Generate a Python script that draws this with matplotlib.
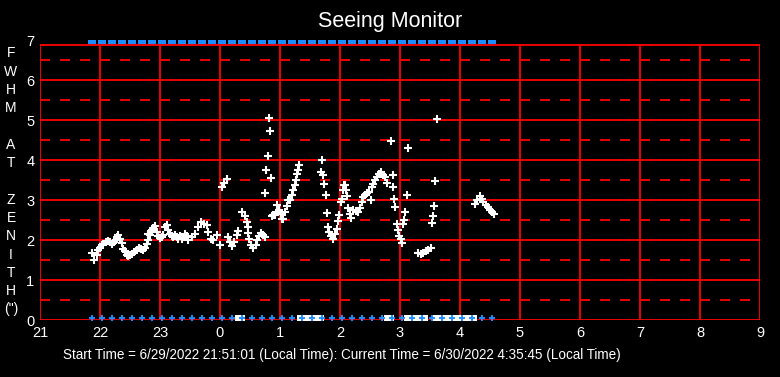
import matplotlib
matplotlib.use("Agg")
import matplotlib.pyplot as plt

# ---------------- data ----------------
title = "Seeing Monitor"
footer = "Start Time = 6/29/2022 21:51:01 (Local Time): Current Time = 6/30/2022 4:35:45 (Local Time)"
ylabel_letters = ["F", "W", "H", "M", "", "A", "T", "", "Z", "E", "N", "I", "T", "H", "(\")"]

x_ticks = [21, 22, 23, 24, 25, 26, 27, 28, 29, 30, 31, 32, 33]
x_ticklabels = ["21", "22", "23", "0", "1", "2", "3", "4", "5", "6", "7", "8", "9"]
y_ticks = [0, 1, 2, 3, 4, 5, 6, 7]
y_ticklabels = ["0", "1", "2", "3", "4", "5", "6", "7"]
dashed_levels = [0.5, 1.5, 2.5, 3.5, 4.5, 5.5, 6.5]
frame_top = 6.875

# FWHM measurements: time (decimal hours, >24 = after midnight) and FWHM (arcsec)
seeing_time = [
    21.872, 21.905, 21.945, 21.972, 22.000, 22.028, 22.055, 22.095, 22.128, 22.167,
    22.205, 22.238, 22.262, 22.288, 22.305, 22.328, 22.362, 22.388, 22.417, 22.445,
    22.472, 22.500, 22.528, 22.572, 22.612, 22.650, 22.683, 22.722, 22.750, 22.778,
    22.805, 22.805, 22.833, 22.862, 22.888, 22.917, 22.945, 22.972, 23.000, 23.028,
    23.055, 23.083, 23.112, 23.138, 23.167, 23.195, 23.222, 23.250, 23.278, 23.305,
    23.333, 23.362, 23.388, 23.417, 23.445, 23.472, 23.528, 23.583, 23.638, 23.683,
    23.738, 23.778, 23.805, 23.850, 23.888, 23.945, 24.000, 24.038, 24.072, 24.112,
    24.138, 24.167, 24.195, 24.238, 24.278, 24.305, 24.372, 24.417, 24.445, 24.462,
    24.472, 24.488, 24.517, 24.555, 24.595, 24.622, 24.650, 24.683, 24.722, 24.750,
    24.755, 24.772, 24.795, 24.822, 24.838, 24.855, 24.872, 24.888, 24.917, 24.945,
    24.950, 24.983, 25.017, 25.038, 25.055, 25.083, 25.112, 25.138, 25.167, 25.195,
    25.222, 25.250, 25.267, 25.288, 25.305, 25.322, 25.695, 25.678, 25.722, 25.738,
    25.767, 25.788, 25.805, 25.822, 25.845, 25.878, 25.917, 25.945, 25.972, 25.988,
    26.012, 26.028, 26.045, 26.067, 26.083, 26.100, 26.122, 26.138, 26.167, 26.183,
    26.222, 26.267, 26.305, 26.333, 26.362, 26.388, 26.417, 26.455, 26.488, 26.522,
    26.528, 26.555, 26.583, 26.622, 26.655, 26.678, 26.712, 26.750, 26.788, 26.855,
    26.878, 26.888, 26.905, 26.922, 26.955, 26.972, 26.988, 27.012, 27.038, 27.055,
    27.072, 27.088, 27.122, 27.138, 27.305, 27.345, 27.388, 27.433, 27.472, 27.512,
    27.538, 27.555, 27.572, 27.588, 27.612, 28.250, 28.288, 28.333, 28.362, 28.388,
    28.433, 28.472, 28.500, 28.528, 28.567,
]
seeing_fwhm = [
    1.69, 1.52, 1.63, 1.75, 1.82, 1.89, 1.92, 1.95, 1.98, 1.96,
    1.92, 1.96, 2.02, 2.08, 2.13, 2.04, 1.94, 1.79, 1.73, 1.63,
    1.60, 1.64, 1.67, 1.70, 1.75, 1.82, 1.79, 1.75, 1.82, 1.92,
    2.00, 2.15, 2.13, 2.27, 2.32, 2.35, 2.21, 2.11, 2.07, 2.08,
    2.13, 2.33, 2.38, 2.27, 2.17, 2.10, 2.08, 2.13, 2.08, 2.04,
    2.10, 2.04, 2.08, 2.15, 2.10, 2.00, 2.08, 2.17, 2.33, 2.46,
    2.42, 2.38, 2.21, 2.04, 2.00, 2.13, 1.88, 3.33, 3.43, 3.54,
    2.08, 1.96, 1.85, 1.96, 2.13, 2.23, 2.71, 2.60, 2.46, 2.33,
    2.18, 2.04, 1.88, 1.82, 1.88, 2.00, 2.10, 2.18, 2.13, 2.08,
    3.19, 3.77, 4.10, 5.07, 4.73, 3.57, 2.60, 2.63, 2.63, 2.71,
    2.88, 2.75, 2.67, 2.54, 2.54, 2.71, 2.85, 3.00, 3.02, 3.13,
    3.27, 3.39, 3.52, 3.67, 3.77, 3.89, 4.00, 3.71, 3.64, 3.42,
    3.14, 2.69, 2.33, 2.21, 2.10, 2.04, 2.17, 2.29, 2.48, 2.64,
    2.96, 3.04, 3.27, 3.39, 3.38, 3.25, 3.10, 2.82, 2.67, 2.57,
    2.75, 2.73, 2.71, 2.82, 2.96, 3.08, 3.14, 3.18, 3.21, 3.02,
    3.33, 3.42, 3.50, 3.58, 3.67, 3.71, 3.63, 3.58, 3.43, 4.48,
    3.64, 3.33, 3.04, 2.83, 2.40, 2.25, 2.10, 2.04, 1.94, 2.40,
    2.52, 2.72, 3.14, 4.32, 1.68, 1.65, 1.68, 1.73, 1.77, 1.82,
    2.44, 2.62, 2.87, 3.49, 5.04, 2.92, 3.02, 3.10, 3.04, 2.96,
    2.88, 2.83, 2.75, 2.71, 2.65,
]

# status flags (minutes after 21:00), shown along top (7) and bottom (near 0)
flag_minutes = [
    52, 62, 72, 82, 92, 102, 112, 122, 132, 142, 152, 162, 172, 182,
    192, 202, 212, 222, 232, 242, 252, 262, 272, 282, 292, 302, 312, 322,
    332, 342, 352, 362, 372, 382, 392, 402, 412, 422, 432, 442, 452,
]
flag_top_value = 7.0
flag_bottom_value = 0.065
# white markers on the bottom line (hours)
white_flag_time = [24.333, 25.367, 25.467, 25.567, 25.650, 26.817, 27.150, 27.267,
                   27.383, 27.617, 27.717, 27.817, 27.917, 28.017, 28.117, 28.200]
white_flag_value = 0.0

# ---------------- figure ----------------
RED = "#ff0000"
BLUE = "#1e8cff"
W, H = 780, 377
fig = plt.figure(figsize=(W / 100, H / 100), dpi=100, facecolor="black")
ax = fig.add_axes([40 / W, (H - 320.3) / H, 720 / W, 280 / H])
ax.set_facecolor("black")
ax.set_xlim(x_ticks[0], x_ticks[-1])
ax.set_ylim(0, 7)
for s in ax.spines.values():
    s.set_visible(False)

lw = 1.3
# solid horizontal lines
for v in range(0, 7):
    ax.plot([x_ticks[0], x_ticks[-1]], [v, v], color=RED, lw=lw, zorder=1, solid_capstyle="butt")
ax.plot([x_ticks[0], x_ticks[-1]], [frame_top, frame_top], color=RED, lw=lw, zorder=1)
# dashed horizontal lines
for v in dashed_levels:
    ax.plot([x_ticks[0], x_ticks[-1]], [v, v], color=RED, lw=lw, zorder=1,
            linestyle=(0, (7.2 / lw, 7.2 / lw)))
# vertical lines
ax.vlines(x_ticks, 0, frame_top, colors=RED, lw=lw, zorder=1)

# data
ax.plot(seeing_time, seeing_fwhm, linestyle="none", marker="+", color="white",
        markersize=5.8, mew=1.5, zorder=3)

flag_time = [21 + m / 60 for m in flag_minutes]
ax.plot(flag_time, [flag_top_value] * len(flag_time), linestyle="none", marker="s",
        color=BLUE, markersize=6.1, mew=0, zorder=4, clip_on=True)
ax.plot(white_flag_time, [white_flag_value] * len(white_flag_time), linestyle="none",
        marker="s", color="white", markersize=6.5, mew=0, zorder=4)
ax.plot(flag_time, [flag_bottom_value] * len(flag_time), linestyle="none", marker="+",
        color=BLUE, markersize=4.2, mew=1.4, zorder=5)

# ticks
ax.set_xticks(x_ticks)
ax.set_xticklabels(x_ticklabels)
ax.set_yticks(y_ticks)
ax.set_yticklabels(y_ticklabels)
ax.tick_params(axis="both", length=0, colors="white", labelsize=10.5)
ax.tick_params(axis="x", pad=4)
ax.tick_params(axis="y", pad=4)
for lab in ax.get_xticklabels() + ax.get_yticklabels():
    lab.set_fontfamily(["Liberation Sans", "DejaVu Sans"])

fig.text(390 / W, 1 - 21 / H, title, color="white", fontsize=15.5, ha="center", va="center",
         family=["Liberation Sans", "DejaVu Sans"])
for i, ch in enumerate(ylabel_letters):
    if ch:
        fig.text(11 / W, 1 - (53.3 + i * 18.3) / H, ch, color="white", fontsize=10,
                 ha="center", va="center", family=["Liberation Sans", "DejaVu Sans"])
fig.text(342 / W, 1 - 355 / H, footer, color="white", fontsize=9.75, ha="center", va="center",
         family=["Liberation Sans", "DejaVu Sans"])

fig.savefig("out.png", dpi=100, facecolor="black")
